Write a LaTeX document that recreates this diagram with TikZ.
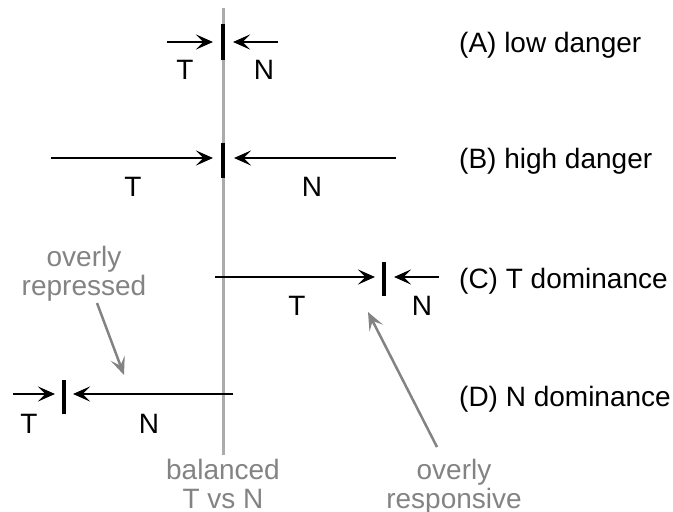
\documentclass[tikz,border=0pt]{standalone}
\usepackage{fontspec}
\setmainfont{Liberation Sans}
\usetikzlibrary{arrows.meta}
\definecolor{axisgray}{HTML}{ABABAB}
\definecolor{notegray}{HTML}{838383}
\begin{document}
\begin{tikzpicture}[x=1pt,y=-1pt,
  force/.style={line width=2.5pt,-{Stealth[length=17pt,width=15pt,inset=7.5pt]}},
  notearrow/.style={line width=2.5pt,draw=notegray,-{Stealth[length=18pt,width=15pt,inset=8pt,fill=notegray]}},
  barline/.style={line width=4pt},
  axis/.style={line width=3pt,draw=axisgray},
  lab/.style={anchor=base,inner sep=0pt,font=\fontsize{28}{28}\selectfont},
  rowlab/.style={anchor=base west,inner sep=0pt,font=\fontsize{28}{28}\selectfont},
  note/.style={inner sep=0pt,text=notegray,align=center,font=\fontsize{28}{29}\selectfont}]
\useasboundingbox (0,0) rectangle (673,512);
% central axis
\coordinate (axtop) at (223,8);
\coordinate (axbot) at (223,455);
\draw[axis] (axtop) -- (axbot);
% Row A
\coordinate (a1) at (167,42); \coordinate (a2) at (213,42);
\coordinate (a3) at (278,42); \coordinate (a4) at (233,42);
\coordinate (ab1) at (223,24); \coordinate (ab2) at (223,60);
\draw[barline] (ab1) -- (ab2);
\draw[force] (a1) -- (a2);
\draw[force] (a3) -- (a4);
\node[lab] (aT) at (185,79) {T};
\node[lab] (aN) at (264,79) {N};
\node[rowlab] (aL) at (459,52) {(A) low danger};
% Row B
\coordinate (b1) at (51,158); \coordinate (b2) at (213,158);
\coordinate (b3) at (396,158); \coordinate (b4) at (234,158);
\coordinate (bb1) at (223,143); \coordinate (bb2) at (223,178);
\draw[barline] (bb1) -- (bb2);
\draw[force] (b1) -- (b2);
\draw[force] (b3) -- (b4);
\node[lab] (bT) at (133,196) {T};
\node[lab] (bN) at (312,196) {N};
\node[rowlab] (bL) at (459,168) {(B) high danger};
% Row C
\coordinate (c1) at (215,277); \coordinate (c2) at (375,277);
\coordinate (c3) at (439,277); \coordinate (c4) at (394,277);
\coordinate (cb1) at (384,262); \coordinate (cb2) at (384,296);
\draw[barline] (cb1) -- (cb2);
\draw[force] (c1) -- (c2);
\draw[force] (c3) -- (c4);
\node[lab] (cT) at (297,315) {T};
\node[lab] (cN) at (422,315) {N};
\node[rowlab] (cL) at (459,288) {(C) T dominance};
% Row D
\coordinate (d1) at (13,394); \coordinate (d2) at (55,394);
\coordinate (d3) at (233,394); \coordinate (d4) at (73,394);
\coordinate (db1) at (64,380); \coordinate (db2) at (64,414);
\draw[barline] (db1) -- (db2);
\draw[force] (d1) -- (d2);
\draw[force] (d3) -- (d4);
\node[lab] (dT) at (29,433) {T};
\node[lab] (dN) at (149,433) {N};
\node[rowlab] (dL) at (459,406) {(D) N dominance};
% grey notes (base anchor = baseline of the last line)
\node[note,anchor=base] (rep) at (84,295) {overly\\repressed};
\coordinate (rept) at (97,303); \coordinate (reph) at (124,375);
\draw[notearrow] (rept) -- (reph);
\node[note,anchor=base] (bal) at (223,508) {balanced\\T vs N};
\node[note,anchor=base] (resp) at (454,508) {overly\\responsive};
\coordinate (rest) at (437,447); \coordinate (resh) at (368,312);
\draw[notearrow] (rest) -- (resh);
\end{tikzpicture}
\end{document}
